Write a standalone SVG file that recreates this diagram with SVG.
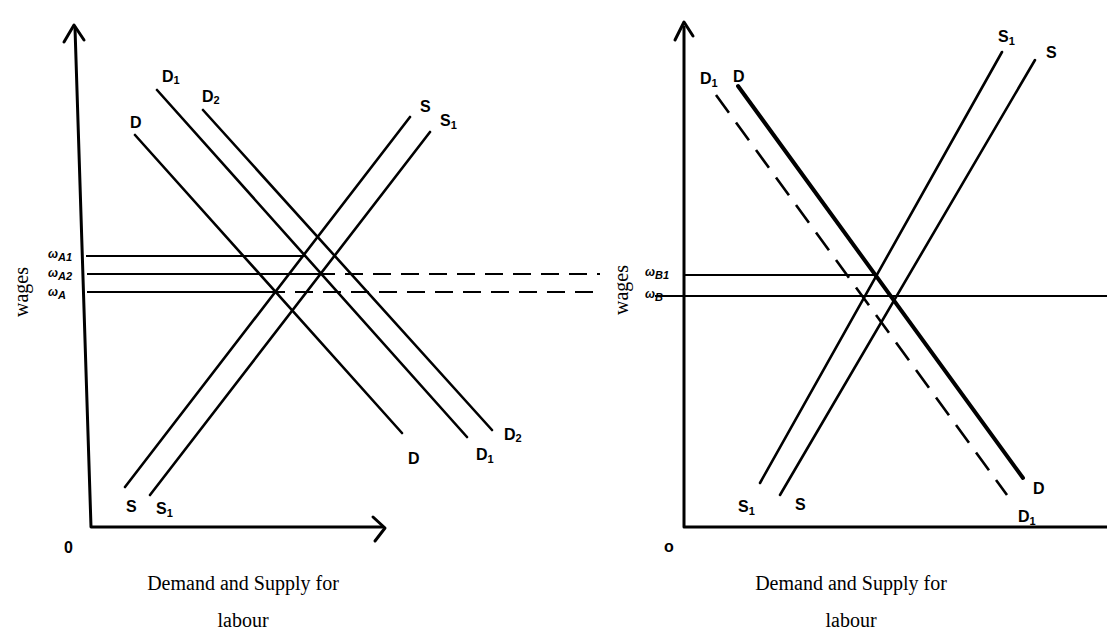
<svg xmlns="http://www.w3.org/2000/svg" width="1107" height="632" viewBox="0 0 1107 632">
<style>
.ln{stroke:#000;stroke-width:2.6;fill:none;stroke-linecap:round}
.ax{stroke:#000;stroke-width:3;fill:none;stroke-linecap:round;stroke-linejoin:round}
.thin{stroke:#000;stroke-width:2;fill:none}
.dash{stroke:#000;stroke-width:2;fill:none;stroke-dasharray:18 10}
.dashc{stroke:#000;stroke-width:2.6;fill:none;stroke-dasharray:22 12}
.hw{font-family:"Liberation Sans",Arial,sans-serif;font-weight:bold;font-size:16px;fill:#000}
.sub{font-size:11px}
.wl{font-family:"Liberation Sans",Arial,sans-serif;font-weight:bold;font-style:italic;font-size:12px;fill:#000}
.cap{font-family:"Liberation Serif","Times New Roman",serif;font-size:20px;fill:#000;text-anchor:middle}
</style>
<rect width="1107" height="632" fill="#fff"/>

<g id="left-graph">
  <g id="left-axes">
    <path class="ax" d="M75,28 L91,527 L383,527"/>
    <path class="ax" d="M64,42 L74,25 L84,40"/>
    <path class="ax" d="M373,517 L385,528 L375,541"/>
    <text class="hw" x="64" y="553">0</text>
    <text class="cap" transform="translate(28,292) rotate(-90)">wages</text>
  </g>
  <g id="left-wage-lines">
    <path class="thin" d="M86,256 L306,256"/>
    <path class="thin" d="M87,274 L335,274"/>
    <path class="dash" d="M345,274 L600,274"/>
    <path class="thin" d="M87,292 L285,292"/>
    <path class="dash" d="M295,292 L600,292"/>
    <text class="wl" x="48" y="258">ω<tspan class="sub" dy="3">A1</tspan></text>
    <text class="wl" x="48" y="277">ω<tspan class="sub" dy="3">A2</tspan></text>
    <text class="wl" x="48" y="296">ω<tspan class="sub" dy="3">A</tspan></text>
  </g>
  <g id="left-D">
    <path class="ln" d="M135,135 L402,433"/>
    <text class="hw" x="130" y="128">D</text>
    <text class="hw" x="408" y="464">D</text>
  </g>
  <g id="left-D1">
    <path class="ln" d="M157,90 L467,437"/>
    <text class="hw" x="162" y="82">D<tspan class="sub" dy="2">1</tspan></text>
    <text class="hw" x="476" y="460">D<tspan class="sub" dy="3">1</tspan></text>
  </g>
  <g id="left-D2">
    <path class="ln" d="M203,110 L492,430"/>
    <text class="hw" x="202" y="102">D<tspan class="sub" dy="2">2</tspan></text>
    <text class="hw" x="504" y="440">D<tspan class="sub" dy="2">2</tspan></text>
  </g>
  <g id="left-S">
    <path class="ln" d="M125,487 L410,117"/>
    <text class="hw" x="420" y="112">S</text>
    <text class="hw" x="126" y="512">S</text>
  </g>
  <g id="left-S1">
    <path class="ln" d="M150,495 L430,132"/>
    <text class="hw" x="440" y="126">S<tspan class="sub" dy="3">1</tspan></text>
    <text class="hw" x="156" y="514">S<tspan class="sub" dy="3">1</tspan></text>
  </g>
  <g id="left-caption">
    <text class="cap" x="243" y="590">Demand and Supply for</text>
    <text class="cap" x="243" y="627">labour</text>
  </g>
</g>

<g id="right-graph">
  <g id="right-axes">
    <path class="ax" d="M684,27 L684,527 L1107,527"/>
    <path class="ax" d="M675,40 L684,22 L693,36"/>
    <text class="hw" x="664" y="552">o</text>
    <text class="cap" transform="translate(628,290) rotate(-90)">wages</text>
  </g>
  <g id="right-wage-lines">
    <path class="thin" d="M684,275 L878,275"/>
    <path class="thin" d="M655,296 L1107,296"/>
    <text class="wl" x="645" y="276">ω<tspan class="sub" dy="3">B1</tspan></text>
    <text class="wl" x="645" y="298">ω<tspan class="sub" dy="3">B</tspan></text>
  </g>
  <g id="right-D">
    <path class="ln" style="stroke-width:4" d="M738,86 L1023,478"/>
    <text class="hw" x="733" y="82">D</text>
    <text class="hw" x="1033" y="494">D</text>
  </g>
  <g id="right-D1">
    <path class="dashc" d="M716,95 L1007,495"/>
    <text class="hw" x="700" y="84">D<tspan class="sub" dy="3">1</tspan></text>
    <text class="hw" x="1018" y="522">D<tspan class="sub" dy="3">1</tspan></text>
  </g>
  <g id="right-S1">
    <path class="ln" d="M760,483 L1002,52"/>
    <text class="hw" x="998" y="42">S<tspan class="sub" dy="3">1</tspan></text>
    <text class="hw" x="738" y="512">S<tspan class="sub" dy="3">1</tspan></text>
  </g>
  <g id="right-S">
    <path class="ln" d="M780,495 L1035,60"/>
    <text class="hw" x="1046" y="58">S</text>
    <text class="hw" x="795" y="510">S</text>
  </g>
  <g id="right-caption">
    <text class="cap" x="851" y="590">Demand and Supply for</text>
    <text class="cap" x="851" y="627">labour</text>
  </g>
</g>
</svg>
